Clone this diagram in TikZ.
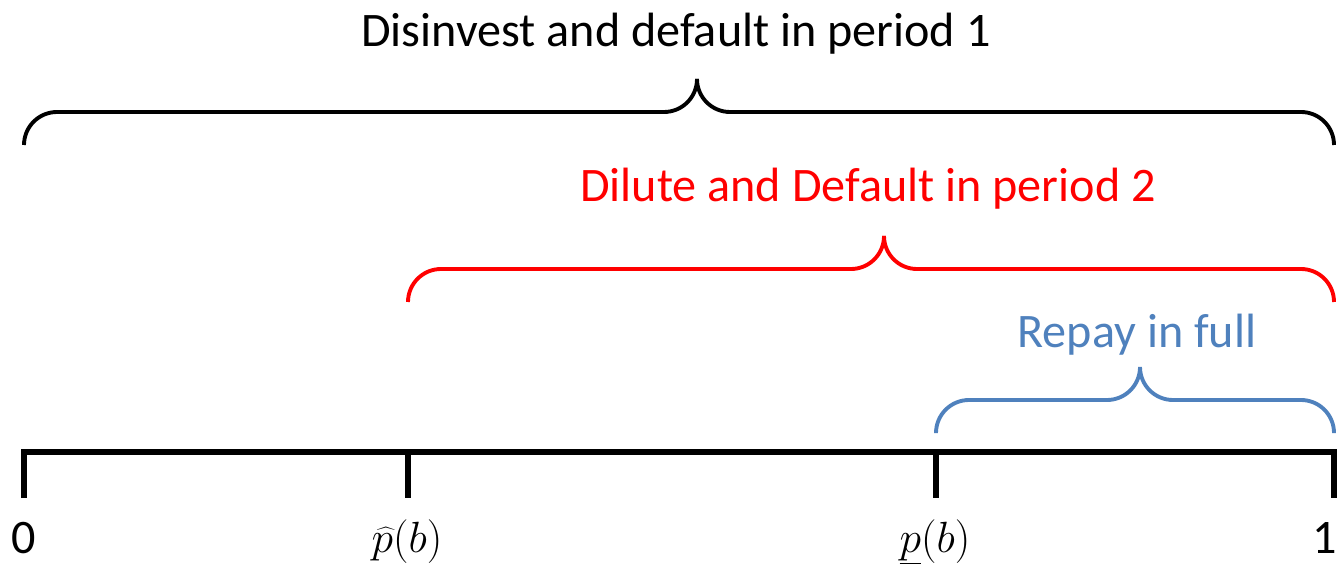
\documentclass[tikz,border=0pt]{standalone}
\usepackage{fontspec}
\setmainfont{Carlito}
\usetikzlibrary{positioning}
\definecolor{diluteRed}{RGB}{255,0,0}
\definecolor{repayBlue}{RGB}{79,129,189}

\begin{document}
\begin{tikzpicture}[x=0.02cm,y=-0.02cm,
  font=\fontsize{27.4}{33}\selectfont,
  axis/.style={line width=2.9pt},
  brace/.style={line width=2.2pt,rounded corners=0.66cm},
  lab/.style={anchor=base,inner sep=0pt},
  mlab/.style={lab,font=\fontsize{28}{34}\selectfont}]
  \useasboundingbox (0,0) rectangle (1338,567);
  % The line from 0 to 1, with its four marks.
  \foreach \n/\x in {t0/24,that/408,tlow/936,t1/1334} {
    \coordinate (\n) at (\x,452);
    \coordinate (\n b) at (\x,498);
  }
  \draw[axis] (t0b) -- (t0) -- (t1) -- (t1b);
  \draw[axis] (that) -- (thatb);
  \draw[axis] (tlow) -- (tlowb);
  \node[lab] (l0) at (24,553) {0};
  \node[mlab] (lhat) at (407,552) {$\widehat{p}(b)$};
  \node[mlab] (llow) at (935,552) {$\underline{p}(b)$};
  \node[lab] (l1) at (1325,553) {1};
  % One brace per region, each drawn as two halves meeting at the tip.
  \foreach \xa/\xm/\xb/\yb/\col in {24/697/1334/145/black,
      408/884/1334/302/diluteRed,936/1140/1334/433/repayBlue} {
    \draw[brace,\col] (\xa,\yb) |- (\xm,\yb-33) -- (\xm,\yb-66);
    \draw[brace,\col] (\xb,\yb) |- (\xm,\yb-33) -- (\xm,\yb-66);
  }
  \node[lab] (top) at (676,47) {Disinvest and default in period 1};
  \node[lab,diluteRed] (mid) at (868,202) {Dilute and Default in period 2};
  \node[lab,repayBlue] (low) at (1137,348) {Repay in full};
\end{tikzpicture}
\end{document}
